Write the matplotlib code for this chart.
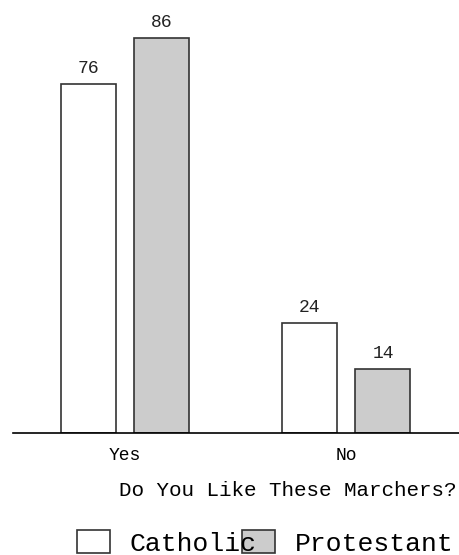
import matplotlib
matplotlib.use('Agg')
import matplotlib.pyplot as plt
import numpy as np

categories = ['Yes', 'No']
catholic = [76, 24]
protestant = [86, 14]
series_names = ['Catholic', 'Protestant']

plt.rcParams['font.family'] = ['Liberation Mono', 'DejaVu Sans Mono']

fig = plt.figure(figsize=(4.59, 5.55), dpi=100)
ax = fig.add_axes([13 / 459, (555 - 433) / 555, 446 / 459, 433 / 555])

x = np.arange(len(categories))
width = 0.249
off = 0.167
b1 = ax.bar(x - off, catholic, width, color='white', edgecolor='#333333', linewidth=1.2, label=series_names[0])
b2 = ax.bar(x + off, protestant, width, color='#cccccc', edgecolor='#333333', linewidth=1.2, label=series_names[1])

for bars in (b1, b2):
    for rect in bars:
        h = rect.get_height()
        ax.annotate(str(h), (rect.get_x() + rect.get_width() / 2, h),
                    xytext=(0, 5), textcoords='offset points',
                    ha='center', va='bottom', fontsize=13, color='#222222')

ax.set_xlim(-0.507, 1.511)
ax.set_ylim(0, 94.3)
ax.set_xticks(x)
ax.set_xticklabels(categories, fontsize=13)
ax.tick_params(axis='x', length=0, pad=10)
ax.set_yticks([])
for s in ['top', 'right', 'left']:
    ax.spines[s].set_visible(False)
ax.spines['bottom'].set_linewidth(1.2)

fig.text(288 / 459, 1 - 490 / 555, 'Do You Like These Marchers?', ha='center', va='center', fontsize=15)

# two legends: the second one drawn on top so "Catholic" stays readable over the grey box
leg_kw = dict(frameon=False, fontsize=19, loc='center left',
              handlelength=1.25, handleheight=0.95, handletextpad=0.75,
              borderpad=0, borderaxespad=0)
fig.legend(handles=[b2], labels=[series_names[1]], bbox_to_anchor=(242 / 459, 1 - 543 / 555), **leg_kw)
fig.legend(handles=[b1], labels=[series_names[0]], bbox_to_anchor=(77 / 459, 1 - 543 / 555), **leg_kw)

plt.savefig('out.png', dpi=100)
plt.close()
